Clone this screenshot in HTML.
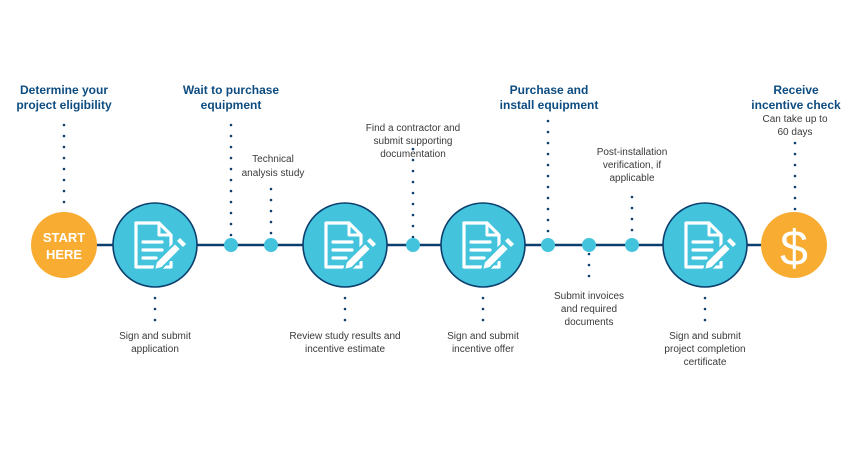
<!DOCTYPE html>
<html><head><meta charset="utf-8"><style>
html,body{margin:0;padding:0;background:#fff;}
svg{display:block;}
.h{font-family:"Liberation Sans",sans-serif;font-weight:bold;font-size:12px;fill:#0d4c80;text-anchor:middle;}
.t{font-family:"Liberation Sans",sans-serif;font-size:10px;fill:#3a3a3a;text-anchor:middle;}
.d{stroke:#0d3f6e;stroke-width:2.6;stroke-linecap:round;stroke-dasharray:0 11;fill:none;}
</style></head><body>
<svg width="860" height="450" viewBox="0 0 860 450">
<defs>
<g id="doc">
<circle r="42" fill="#43c3dc" stroke="#0d3f6e" stroke-width="1.6"/>
<path d="M16,4 V-10 L4,-22 H-19 V22 H16 V16" fill="none" stroke="#fff" stroke-width="3.2" stroke-linejoin="round"/>
<path d="M4,-22 V-10 H16" fill="none" stroke="#fff" stroke-width="3" stroke-linejoin="round"/>
<path d="M-12,-3 H7 M-12,5 H7 M-12,13 H1" stroke="#fff" stroke-width="3.2" stroke-linecap="round"/>
<path d="M1,17 L20,-2 L26,4 L7,23 L-1,25 Z" fill="#fff" stroke="#43c3dc" stroke-width="2" stroke-linejoin="round"/>
<path d="M22,-4 L25,-7 L31,-1 L28,2 Z" fill="#fff"/>
</g>
</defs>
<line x1="60" y1="245" x2="795" y2="245" stroke="#0d3f6e" stroke-width="2.5"/>
<path class="d" d="M64,125 V210"/>
<path class="d" d="M231,125 V238"/>
<path class="d" d="M271,189 V238"/>
<path class="d" d="M413,149 V238"/>
<path class="d" d="M548,121 V238"/>
<path class="d" d="M632,197 V238"/>
<path class="d" d="M795,143 V212"/>
<path class="d" d="M155,298 V323"/>
<path class="d" d="M345,298 V323"/>
<path class="d" d="M483,298 V323"/>
<path class="d" d="M589,254 V286"/>
<path class="d" d="M705,298 V323"/>
<g fill="#43c3dc"><circle cx="231" cy="245" r="7"/><circle cx="271" cy="245" r="7"/><circle cx="413" cy="245" r="7"/><circle cx="548" cy="245" r="7"/><circle cx="589" cy="245" r="7"/><circle cx="632" cy="245" r="7"/></g>
<circle cx="64" cy="245" r="33" fill="#f8ad32"/>
<text x="64" y="242" font-family="Liberation Sans,sans-serif" font-weight="bold" font-size="13" fill="#fff" text-anchor="middle">START</text>
<text x="64" y="259" font-family="Liberation Sans,sans-serif" font-weight="bold" font-size="13" fill="#fff" text-anchor="middle">HERE</text>
<use href="#doc" x="155" y="245"/>
<use href="#doc" x="345" y="245"/>
<use href="#doc" x="483" y="245"/>
<use href="#doc" x="705" y="245"/>
<circle cx="794" cy="245" r="33" fill="#f8ad32"/>
<text x="794" y="265" font-family="Liberation Sans,sans-serif" font-size="50" fill="#fff" text-anchor="middle">$</text>
<text class="h" x="64" y="94">Determine your</text>
<text class="h" x="64" y="109">project eligibility</text>
<text class="h" x="231" y="94">Wait to purchase</text>
<text class="h" x="231" y="109">equipment</text>
<text class="h" x="549" y="94">Purchase and</text>
<text class="h" x="549" y="109">install equipment</text>
<text class="h" x="796" y="94">Receive</text>
<text class="h" x="796" y="109">incentive check</text>
<text class="t" x="795" y="122">Can take up to</text>
<text class="t" x="795" y="135">60 days</text>
<text class="t" x="273" y="162">Technical</text>
<text class="t" x="273" y="176">analysis study</text>
<text class="t" x="413" y="131">Find a contractor and</text>
<text class="t" x="413" y="144">submit supporting</text>
<text class="t" x="413" y="157">documentation</text>
<text class="t" x="632" y="155">Post-installation</text>
<text class="t" x="632" y="168">verification, if</text>
<text class="t" x="632" y="181">applicable</text>
<text class="t" x="155" y="339">Sign and submit</text>
<text class="t" x="155" y="352">application</text>
<text class="t" x="345" y="339">Review study results and</text>
<text class="t" x="345" y="352">incentive estimate</text>
<text class="t" x="483" y="339">Sign and submit</text>
<text class="t" x="483" y="352">incentive offer</text>
<text class="t" x="589" y="299">Submit invoices</text>
<text class="t" x="589" y="312">and required</text>
<text class="t" x="589" y="325">documents</text>
<text class="t" x="705" y="339">Sign and submit</text>
<text class="t" x="705" y="352">project completion</text>
<text class="t" x="705" y="365">certificate</text>
</svg>
</body></html>
